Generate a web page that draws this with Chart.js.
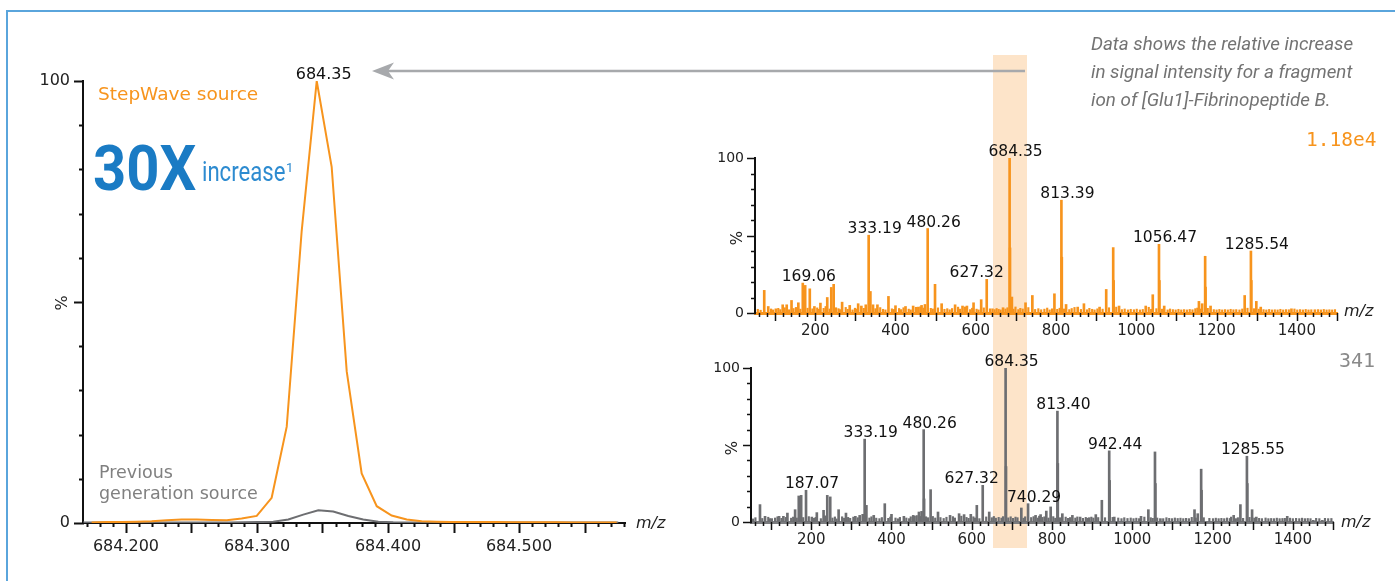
<!DOCTYPE html>
<html>
<head>
<meta charset="utf-8">
<script src="https://cdn.jsdelivr.net/npm/chart.js@4.4.1/dist/chart.umd.min.js"></script>
<style>
  html, body { margin: 0; padding: 0; background: #fff; }
  #page { position: relative; width: 1395px; height: 581px; overflow: hidden; font-family: 'DejaVu Sans', sans-serif; }
  .frame { position: absolute; left: 6px; top: 10px; width: 1500px; height: 700px; border: 2px solid #5aa5dc; }
  .band { position: absolute; left: 993px; top: 55px; width: 34px; height: 493px; background: #fde4c9; }
  canvas { position: absolute; }
  .txt { position: absolute; white-space: nowrap; }
</style>
</head>
<body>
<div id="page">
  <div class="frame"></div>
  <div class="band"></div>
  <canvas id="mainChart" width="700" height="581" style="left:0;top:0"></canvas>
  <canvas id="topChart" width="705" height="230" style="left:690px;top:120px"></canvas>
  <canvas id="botChart" width="705" height="251" style="left:690px;top:330px"></canvas>
  <svg width="1395" height="581" style="position:absolute;left:0;top:0">
    <line x1="388" y1="71" x2="1025" y2="71" stroke="#a7a9ac" stroke-width="2.5"/>
    <path d="M372,71 L394,62.5 L388,71 L394,79.5 Z" fill="#a7a9ac"/>
  </svg>
</div>
<script>
// zoomed peak (m/z 684.35), % of StepWave max
const stepMz = [684.1738, 684.1853, 684.1967, 684.2082, 684.2196, 684.2311, 684.2425, 684.2540, 684.2654, 684.2769,
  684.2883, 684.2998, 684.3112, 684.3227, 684.3341, 684.3456, 684.3570, 684.3685, 684.3799, 684.3914,
  684.4028, 684.4143, 684.4257, 684.4372, 684.4486, 684.4601, 684.4715, 684.4830, 684.4944, 684.5059,
  684.5173, 684.5288, 684.5402, 684.5517, 684.5631, 684.5746];
const stepPct = [0.1, 0.2, 0.2, 0.3, 0.4, 0.6, 0.8, 0.8, 0.7, 0.6,
  1.0, 1.6, 5.7, 21.8, 66, 100, 80.6, 34.3, 11.2, 3.8,
  1.7, 0.8, 0.4, 0.3, 0.2, 0.2, 0.2, 0.2, 0.15, 0.15,
  0.15, 0.15, 0.1, 0.1, 0.1, 0.1];
const prevMz = [684.1636, 684.1750, 684.1865, 684.1979, 684.2094, 684.2208, 684.2323, 684.2437, 684.2552, 684.2666,
  684.2781, 684.2895, 684.3010, 684.3124, 684.3239, 684.3353, 684.3468, 684.3582, 684.3697, 684.3811,
  684.3926, 684.4040, 684.4155, 684.4269, 684.4384, 684.4498, 684.4613, 684.4727, 684.4842, 684.4956,
  684.5071, 684.5185, 684.5300, 684.5414, 684.5529, 684.5643, 684.5758];
const prevPct = [0.1, 0.1, 0.1, 0.1, 0.1, 0.1, 0.1, 0.1, 0.1, 0.1,
  0.1, 0.15, 0.2, 0.3, 0.8, 1.9, 2.9, 2.6, 1.6, 0.8,
  0.3, 0.15, 0.1, 0.1, 0.1, 0.1, 0.1, 0.1, 0.1, 0.1,
  0.1, 0.1, 0.1, 0.1, 0.1, 0.1, 0.1];
const zoomXLabels = [684.2, 684.3, 684.4, 684.5];
const pctLabels = [0, 100];
const specXLabels = [200, 400, 600, 800, 1000, 1200, 1400];

// StepWave spectrum (top), max 1.18e4
const topMz = [73, 83, 102, 119, 129, 141, 158, 169.06, 175, 186.5,
  198, 213, 230, 240, 246, 267, 286, 307, 315, 326,
  333.19, 337.5, 344, 355, 382.5, 400, 425, 444, 457, 465,
  473.5, 480.26, 498.5, 515, 548.5, 567, 578, 594.5, 613.5, 627.32,
  636, 668, 684.35, 685.35, 690, 724, 741, 796, 813.39, 814.4,
  825, 854, 869.5, 908.5, 925, 942.44, 943.44, 957, 1023.5, 1041,
  1056.47, 1057.47, 1069.5, 1156, 1164, 1171.51, 1172.5, 1185, 1270, 1285.54,
  1286.54, 1299, 1310, 1386.5, 1445];
const topPct = [14.6, 4.2, 2.7, 5.3, 5.3, 8.1, 6.6, 19.3, 17.8, 15.6,
  4.2, 6.4, 10.0, 16.5, 18.5, 7.0, 4.9, 6.0, 4.5, 5.3,
  50.2, 13.9, 5.3, 5.3, 10.7, 4.7, 4.2, 4.5, 3.8, 4.9,
  5.5, 54.5, 18.5, 6.0, 5.3, 4.5, 4.5, 6.6, 8.6, 21.7,
  2.7, 3.4, 100, 42, 10.3, 6.6, 11.3, 12.4, 72.8, 36,
  5.5, 3.8, 6.0, 3.8, 15.2, 42.2, 21, 4.5, 4.5, 11.8,
  44.3, 21, 4.5, 7.5, 6.0, 36.6, 16.7, 4.5, 11.3, 40,
  21, 7.5, 3.8, 2.7, 2.1];
const topNoiseMz = [57, 64, 90, 95, 108, 113, 124, 135, 146, 152, 163, 181, 193, 205, 209, 221, 226, 236, 252, 258,
  262, 276, 281, 293, 299, 303, 321, 350, 362, 369, 375, 391, 396, 409, 414, 420, 433, 438, 451, 462,
  470, 488, 493, 506, 522, 529, 535, 541, 556, 561, 573, 586, 591, 602, 607, 620, 642, 647, 652, 657,
  662, 674, 679, 694, 699, 706, 711, 717, 731, 748, 756, 763, 771, 778, 784, 790, 803, 809, 820, 833,
  839, 846, 862, 877, 883, 890, 896, 903, 916, 932, 950, 964, 971, 979, 986, 994, 1001, 1009, 1016, 1031,
  1037, 1050, 1064, 1078, 1084, 1091, 1098, 1105, 1112, 1119, 1126, 1133, 1140, 1147, 1152, 1161, 1178, 1193, 1200, 1207,
  1214, 1221, 1228, 1235, 1242, 1249, 1257, 1264, 1277, 1293, 1305, 1317, 1324, 1331, 1338, 1345, 1352, 1359, 1366, 1373,
  1380, 1394, 1401, 1408, 1415, 1422, 1429, 1436, 1453, 1460, 1467, 1474, 1481, 1488, 1495];
const topNoisePct = [2.4, 1.8, 2.6, 2.0, 3.0, 2.2, 3.4, 2.1, 2.9, 3.6, 2.5, 3.1, 2.7, 3.3, 2.4, 3.0, 4.2, 2.6, 3.4, 2.8,
  2.2, 3.6, 2.4, 2.0, 3.1, 2.6, 3.0, 2.8, 3.5, 2.4, 2.0, 2.7, 2.3, 2.9, 2.2, 3.4, 2.5, 2.0, 3.7, 4.0,
  3.2, 3.0, 2.6, 3.3, 2.4, 2.8, 2.1, 2.9, 3.8, 2.5, 3.9, 2.2, 3.1, 2.5, 2.0, 3.3, 2.7, 2.2, 2.9, 2.4,
  2.0, 2.6, 3.4, 2.5, 3.9, 2.2, 3.0, 2.6, 3.5, 2.3, 2.8, 2.1, 2.5, 3.2, 2.0, 2.7, 2.4, 3.1, 2.6, 2.2,
  2.9, 3.6, 2.3, 2.1, 3.0, 2.4, 2.0, 2.7, 2.5, 3.4, 3.8, 2.2, 2.6, 2.0, 2.4, 2.1, 2.5, 2.0, 2.3, 3.7,
  2.4, 2.8, 2.5, 2.0, 2.6, 2.2, 2.0, 2.4, 2.0, 2.2, 2.0, 2.3, 2.1, 2.8, 3.2, 2.6, 3.0, 2.2, 2.0, 2.3,
  2.0, 2.2, 2.0, 2.4, 2.1, 2.2, 2.0, 2.6, 3.1, 2.8, 2.5, 2.2, 2.0, 2.3, 2.0, 2.1, 2.0, 2.4, 2.0, 2.2,
  2.1, 2.6, 2.0, 2.2, 2.0, 2.3, 2.0, 2.1, 2.2, 2.0, 2.3, 2.0, 2.1, 2.0, 2.2];

// previous generation spectrum (bottom), max 341
const botMz = [72.4, 85, 101.5, 120, 130.7, 140.7, 159.9, 169, 175, 187.07,
  201.6, 214, 230.8, 240, 247.4, 268.3, 286.6, 310, 320.8, 328.3,
  333.19, 337.5, 355.8, 383.3, 400, 430.9, 454.2, 468.4, 475, 480.26,
  481.3, 497.5, 515.9, 545.9, 568.4, 580.9, 597.6, 612.6, 627.32, 643.5,
  684.35, 685.35, 723.5, 740.29, 759, 771.5, 785.7, 796.6, 813.40, 814.4,
  825.7, 850.7, 870, 892.4, 909, 924.1, 942.44, 943.44, 955, 1021.7,
  1040, 1056.47, 1057.47, 1070, 1155, 1163, 1171.51, 1172.5, 1252.6, 1269.3,
  1285.55, 1286.55, 1298.4, 1309, 1386, 1451, 1473.5];
const botPct = [11.3, 3.7, 2.2, 3.7, 3.7, 5.8, 8.0, 16.9, 17.3, 20.6,
  3.2, 6.1, 7.6, 17.3, 16.3, 8.0, 5.8, 3.7, 4.3, 5.0,
  53.8, 10.8, 4.3, 11.9, 5.0, 3.7, 4.3, 6.5, 6.9, 60,
  15, 21.0, 6.5, 4.3, 5.4, 4.8, 5.0, 10.8, 23.8, 6.5,
  100, 36, 9.1, 11.9, 4.3, 4.8, 7.1, 9.8, 72, 38,
  5.4, 4.3, 3.2, 2.8, 4.8, 14.1, 46.2, 27, 3.2, 3.7,
  8.0, 45.5, 25, 2.2, 8.0, 5.4, 34.3, 20.6, 4.3, 11.3,
  42.7, 25, 8.0, 3.2, 3.7, 1.1, 1.1];
const botNoiseMz = [55, 61, 78, 93, 97, 110, 116, 126, 137, 150, 155, 164, 180, 194, 207, 211, 224, 235, 253, 259,
  263, 277, 282, 292, 297, 305, 316, 345, 350, 362, 370, 376, 392, 397, 410, 416, 421, 437, 444, 448,
  458, 463, 472, 486, 491, 503, 509, 522, 530, 537, 553, 558, 574, 587, 592, 604, 608, 619, 636, 650,
  655, 660, 667, 674, 678, 691, 697, 703, 709, 714, 729, 733, 748, 754, 765, 768, 776, 781, 791, 803,
  808, 820, 834, 840, 845, 858, 863, 877, 884, 888, 898, 903, 915, 932, 951, 965, 973, 980, 988, 996,
  1003, 1010, 1017, 1030, 1046, 1051, 1062, 1077, 1085, 1092, 1099, 1106, 1113, 1120, 1127, 1134, 1141, 1148, 1158, 1178,
  1192, 1201, 1208, 1215, 1222, 1229, 1236, 1243, 1246, 1258, 1263, 1276, 1292, 1304, 1316, 1323, 1332, 1339, 1346, 1353,
  1360, 1367, 1374, 1380, 1393, 1400, 1408, 1416, 1423, 1430, 1437, 1444, 1458, 1466, 1480, 1488, 1496];
const botNoisePct = [2.0, 2.8, 2.3, 3.1, 2.2, 2.6, 3.4, 2.4, 3.0, 2.5, 3.2, 2.6, 2.9, 3.5, 2.4, 3.0, 2.2, 4.0, 2.6, 3.3,
  2.0, 3.4, 2.5, 3.0, 2.4, 3.2, 2.8, 2.6, 3.4, 2.5, 2.2, 2.9, 2.4, 3.2, 2.6, 2.1, 3.0, 2.6, 2.2, 3.4,
  3.8, 4.2, 3.6, 3.4, 2.8, 3.6, 2.6, 2.9, 2.3, 3.1, 3.5, 2.6, 3.8, 3.0, 2.4, 3.4, 2.6, 2.2, 3.3, 2.8,
  3.6, 2.5, 3.0, 2.6, 3.5, 2.7, 3.4, 2.4, 3.2, 2.8, 2.5, 3.4, 2.9, 3.5, 2.6, 3.8, 3.0, 3.4, 2.6, 3.5,
  2.5, 2.8, 3.2, 2.4, 2.9, 2.6, 3.3, 2.4, 3.0, 2.4, 3.2, 2.6, 2.9, 2.8, 3.0, 2.6, 2.2, 2.8, 2.3, 2.6,
  2.2, 2.5, 2.2, 3.2, 2.8, 2.4, 2.6, 2.2, 2.8, 2.4, 2.2, 2.6, 2.3, 2.5, 2.2, 2.4, 2.2, 3.0, 2.6, 2.8,
  2.4, 2.2, 2.5, 2.2, 2.4, 2.2, 2.6, 2.3, 3.2, 2.2, 2.8, 2.4, 3.0, 2.6, 2.4, 2.2, 2.6, 2.2, 2.3, 2.2,
  2.5, 2.2, 2.3, 2.4, 2.5, 2.2, 2.4, 2.2, 2.5, 2.2, 2.3, 2.2, 2.4, 2.2, 2.4, 2.2, 2.3];

const topPeakLabels = [169.06, 333.19, 480.26, 627.32, 684.35, 813.39, 1056.47, 1285.54];
const botPeakLabels = [187.07, 333.19, 480.26, 627.32, 684.35, 740.29, 813.40, 942.44, 1285.55];
const zoomPeakLabels = [684.35];

const ORANGE = '#f7941d';
const GREY = '#6d6e71';
const FONT = 'DejaVu Sans';

const pts = (xs, ys) => xs.map((x, i) => ({ x: x, y: ys[i] }));

// minor/major tick marks drawn from the scales
const tickMarks = {
  id: 'tickMarks',
  afterDraw(chart, args, o) {
    const ctx = chart.ctx;
    ctx.save();
    ctx.strokeStyle = '#111';
    ctx.lineWidth = o.width;
    ['x', 'y'].forEach(id => {
      const s = chart.scales[id], t = o[id];
      const n0 = Math.ceil(s.min / t.minor - 1e-6), n1 = Math.floor(s.max / t.minor + 1e-6);
      const every = Math.round(t.major / t.minor);
      for (let n = n0; n <= n1; n++) {
        const len = n % every === 0 ? t.majorLen : t.minorLen;
        const p = Math.round(s.getPixelForValue(n * t.minor)) + 0.5;
        ctx.beginPath();
        if (id === 'x') { ctx.moveTo(p, s.top); ctx.lineTo(p, s.top + len); }
        else { ctx.moveTo(s.right + 1, p); ctx.lineTo(s.right - len, p); }
        ctx.stroke();
      }
    });
    ctx.restore();
  }
};

// m/z labels over the named peaks
const peakLabels = {
  id: 'peakLabels',
  afterDatasetsDraw(chart, args, o) {
    const meta = chart.getDatasetMeta(0), data = chart.data.datasets[0].data;
    const ctx = chart.ctx;
    ctx.save();
    ctx.font = o.font;
    ctx.fillStyle = '#111';
    ctx.textAlign = 'center';
    ctx.textBaseline = 'alphabetic';
    o.values.forEach(v => {
      let best = 0;
      data.forEach((d, i) => { if (Math.abs(d.x - v) < Math.abs(data[best].x - v)) best = i; });
      const el = meta.data[best];
      const dx = (o.nudge && o.nudge[v] !== undefined) ? o.nudge[v] : o.dx;
      ctx.fillText(v.toFixed(2), el.x + dx, el.y - 2);
    });
    ctx.restore();
  }
};

// zoomed peak chart
new Chart(document.getElementById('mainChart'), {
  type: 'line',
  data: {
    datasets: [
      { data: pts(stepMz, stepPct), borderColor: ORANGE, borderWidth: 2, pointRadius: 0, tension: 0 },
      { data: pts(prevMz, prevPct), borderColor: GREY, borderWidth: 2, pointRadius: 0, tension: 0 }
    ]
  },
  options: {
    responsive: false,
    animation: false,
    events: [],
    layout: { padding: { left: 0, top: 81, right: 75, bottom: 18 } },
    plugins: {
      legend: { display: false },
      tooltip: { enabled: false },
      tickMarks: { width: 2, x: { minor: 0.01, major: 0.05, minorLen: 4, majorLen: 10 },
                   y: { minor: 10, major: 50, minorLen: 4, majorLen: 9 } },
      peakLabels: { values: zoomPeakLabels, font: '16px "DejaVu Sans"', dx: 7 }
    },
    scales: {
      x: {
        type: 'linear', min: 684.1672, max: 684.5809, bounds: 'data',
        grid: { display: false, drawTicks: false },
        border: { color: '#111', width: 2 },
        afterBuildTicks: s => { s.ticks = zoomXLabels.map(v => ({ value: v })); },
        afterFit: s => { s.height = 40; },
        ticks: { padding: 14, color: '#222', font: { family: FONT, size: 16 }, maxRotation: 0, autoSkip: false,
                 callback: v => v.toFixed(3) }
      },
      y: {
        min: 0, max: 100, bounds: 'data',
        grid: { display: false, drawTicks: false },
        border: { color: '#111', width: 2 },
        afterBuildTicks: s => { s.ticks = pctLabels.map(v => ({ value: v })); },
        afterFit: s => { s.width = 83; },
        ticks: { padding: 13, color: '#222', font: { family: FONT, size: 16 }, callback: v => String(v) }
      }
    }
  },
  plugins: [tickMarks, peakLabels]
});

function spectrum(id, peaks, noise, color, base, geo, labels, nudge) {
  new Chart(document.getElementById(id), {
    type: 'bar',
    data: {
      datasets: [
        { data: peaks, backgroundColor: color, barThickness: 2, grouped: false },
        { data: noise, backgroundColor: color, barThickness: 1.5, grouped: false }
      ]
    },
    options: {
      responsive: false,
      animation: false,
      events: [],
      layout: { padding: geo.pad },
      plugins: {
        legend: { display: false },
        tooltip: { enabled: false },
        tickMarks: { width: 1.5, x: { minor: 20, major: 100, minorLen: 4, majorLen: 8 },
                     y: { minor: 10, major: 50, minorLen: 4, majorLen: 8 } },
        peakLabels: { values: labels, font: '15.5px "DejaVu Sans"', dx: 6, nudge: nudge }
      },
      scales: {
        x: {
          type: 'linear', min: 50, max: 1500, offset: false, bounds: 'data',
          grid: { display: false, drawTicks: false },
          border: { color: base, width: 3 },
          afterBuildTicks: s => { s.ticks = specXLabels.map(v => ({ value: v })); },
          afterFit: s => { s.height = 30; },
          ticks: { padding: 9, color: '#222', font: { family: FONT, size: 15 }, maxRotation: 0, autoSkip: false,
                   callback: v => String(v) }
        },
        y: {
          min: 0, max: 100, bounds: 'data',
          grid: { display: false, drawTicks: false },
          border: { color: '#111', width: 2 },
          afterBuildTicks: s => { s.ticks = pctLabels.map(v => ({ value: v })); },
          afterFit: s => { s.width = geo.yw; },
          ticks: { padding: 11, color: '#222', font: { family: FONT, size: 14 }, callback: v => String(v) }
        }
      }
    },
    plugins: [tickMarks, peakLabels]
  });
}

spectrum('topChart', pts(topMz, topPct), pts(topNoiseMz, topNoisePct), ORANGE, ORANGE,
  { yw: 65, pad: { left: 0, top: 38, right: 58, bottom: 7 } }, topPeakLabels, { 627.32: -10 });
spectrum('botChart', pts(botMz, botPct), pts(botNoiseMz, botNoisePct), GREY, '#7a7b7e',
  { yw: 61, pad: { left: 0, top: 38, right: 62, bottom: 29 } }, botPeakLabels, { 627.32: -11 });

// annotation text, placed by baseline
const notes = [
  { t: 'StepWave source', x: 98, b: 100.7, size: 18.5, font: FONT, color: ORANGE },
  { t: 'Previous', x: 99, b: 479, size: 17.5, font: FONT, color: '#808080' },
  { t: 'generation source', x: 99, b: 500, size: 17.5, font: FONT, color: '#808080' },
  { t: '30X', x: 93, b: 190.7, size: 63, font: 'Roboto', weight: 700, color: '#1a7bc4', sx: 0.92 },
  { t: 'increase', x: 202, b: 181.7, size: 27, font: 'Roboto', color: '#2d8bd0', sx: 0.82 },
  { t: '1', x: 286, b: 171.7, size: 13, font: 'Roboto', color: '#2d8bd0' },
  { t: 'Data shows the relative increase', x: 1091, b: 50.5, size: 18.8, font: 'Roboto', style: 'italic', color: '#737373' },
  { t: 'in signal intensity for a fragment', x: 1091, b: 78.5, size: 18.8, font: 'Roboto', style: 'italic', color: '#737373' },
  { t: 'ion of [Glu1]-Fibrinopeptide B.', x: 1091, b: 106.5, size: 18.8, font: 'Roboto', style: 'italic', color: '#737373' },
  { t: '1.18e4', x: 1306, b: 146, size: 19.5, font: 'DejaVu Sans Mono', color: ORANGE },
  { t: '341', x: 1339, b: 366.5, size: 20, font: 'DejaVu Sans Mono', color: '#8a8a8a' },
  { t: 'm/z', x: 636, b: 529, size: 16, font: FONT, style: 'italic', color: '#222' },
  { t: 'm/z', x: 1344, b: 317, size: 16, font: FONT, style: 'italic', color: '#222' },
  { t: 'm/z', x: 1341, b: 528, size: 16, font: FONT, style: 'italic', color: '#222' }
];
const page = document.getElementById('page');
notes.forEach(n => {
  const el = document.createElement('div');
  el.className = 'txt';
  el.textContent = n.t;
  el.style.left = n.x + 'px';
  el.style.top = (n.b - 0.845 * n.size) + 'px';
  el.style.fontFamily = '"' + n.font + '"';
  el.style.fontSize = n.size + 'px';
  el.style.lineHeight = n.size + 'px';
  el.style.fontWeight = n.weight || 400;
  el.style.fontStyle = n.style || 'normal';
  el.style.color = n.color;
  if (n.sx) { el.style.transform = 'scaleX(' + n.sx + ')'; el.style.transformOrigin = 'left top'; }
  page.appendChild(el);
});

// rotated % axis titles
[[60.5, 302.5, 16], [736.5, 237.5, 15], [732, 447.5, 15]].forEach(([x, y, size]) => {
  const el = document.createElement('div');
  el.className = 'txt';
  el.textContent = '%';
  el.style.left = x + 'px';
  el.style.top = y + 'px';
  el.style.fontSize = size + 'px';
  el.style.color = '#222';
  el.style.transform = 'translate(-50%, -50%) rotate(-90deg)';
  page.appendChild(el);
});
</script>
</body>
</html>
